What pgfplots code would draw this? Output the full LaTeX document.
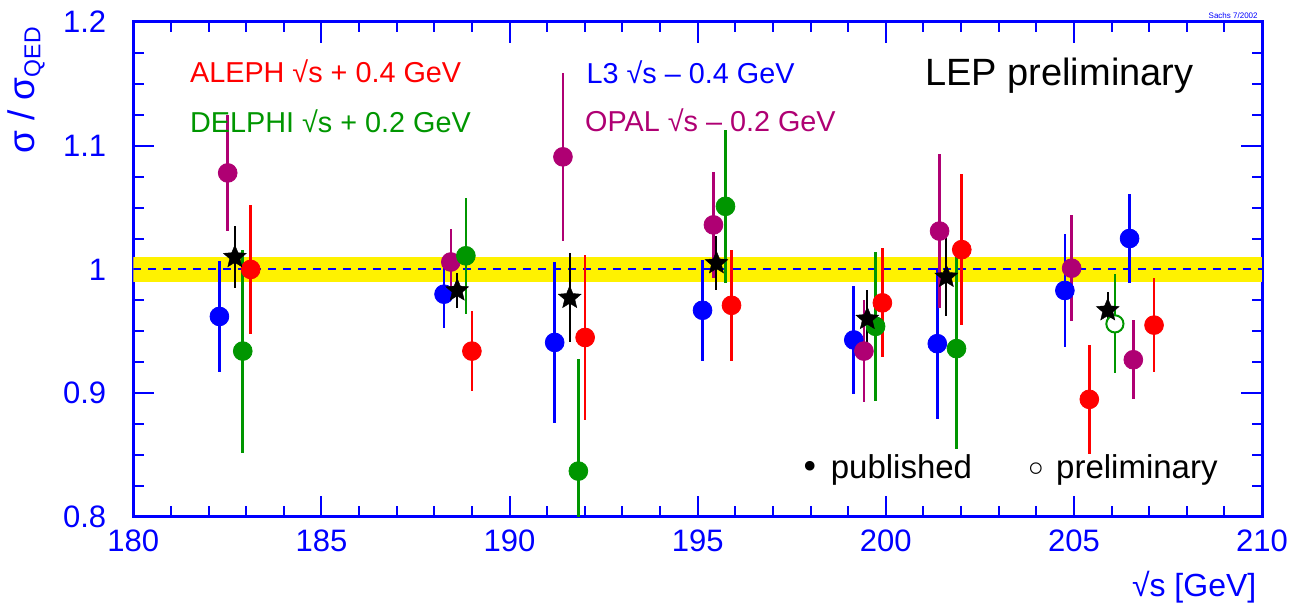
\documentclass[border=0pt]{standalone}
\usepackage{fontspec}
\setmainfont{Liberation Sans}
\newfontfamily\dejavu{DejaVu Sans}
\usepackage{pgfplots}
\usepackage{pgfplotstable}
\pgfplotsset{compat=1.18}

\definecolor{cAleph}{RGB}{255,0,0}
\definecolor{cDelphi}{RGB}{0,150,0}
\definecolor{cLthree}{RGB}{0,0,255}
\definecolor{cOpal}{RGB}{175,0,115}

\pgfdeclareplotmark{fstar}{%
  \pgfpathmoveto{\pgfpointpolar{90}{\pgfplotmarksize}}%
  \pgfpathlineto{\pgfpointpolar{126}{0.45\pgfplotmarksize}}%
  \pgfpathlineto{\pgfpointpolar{162}{\pgfplotmarksize}}%
  \pgfpathlineto{\pgfpointpolar{198}{0.45\pgfplotmarksize}}%
  \pgfpathlineto{\pgfpointpolar{234}{\pgfplotmarksize}}%
  \pgfpathlineto{\pgfpointpolar{270}{0.45\pgfplotmarksize}}%
  \pgfpathlineto{\pgfpointpolar{306}{\pgfplotmarksize}}%
  \pgfpathlineto{\pgfpointpolar{342}{0.45\pgfplotmarksize}}%
  \pgfpathlineto{\pgfpointpolar{18}{\pgfplotmarksize}}%
  \pgfpathlineto{\pgfpointpolar{54}{0.45\pgfplotmarksize}}%
  \pgfpathclose
  \pgfusepathqfillstroke
}

\pgfplotstableread{
x y e
182.29 0.962 0.045
188.26 0.980 0.027
191.20 0.941 0.065
195.13 0.967 0.041
199.15 0.943 0.044
201.37 0.940 0.061
204.76 0.983 0.046
206.48 1.025 0.036
}\lthree

\pgfplotstableread{
x y e
182.51 1.078 0.047
188.44 1.006 0.027
191.42 1.091 0.068
195.42 1.036 0.043
199.42 0.934 0.041
201.43 1.031 0.062
204.94 1.001 0.043
206.58 0.927 0.032
}\opal

\pgfplotstableread{
x y e
182.91 0.934 0.082
188.84 1.011 0.047
191.83 0.837 0.091
195.74 1.051 0.062
199.73 0.954 0.060
201.88 0.936 0.081
}\delphi

\pgfplotstableread{
x y e
206.09 0.956 0.040
}\delphiprel

\pgfplotstableread{
x y e
183.12 1.000 0.052
189.00 0.934 0.032
192.01 0.945 0.067
195.90 0.971 0.045
199.91 0.973 0.044
202.02 1.016 0.061
205.41 0.895 0.044
207.13 0.955 0.038
}\aleph

\pgfplotstableread{
x y e
182.70 1.010 0.025
188.61 0.983 0.014
191.60 0.977 0.036
195.50 1.005 0.022
199.51 0.960 0.023
201.61 0.994 0.032
205.90 0.967 0.015
}\lep

\begin{document}
\begin{tikzpicture}
\begin{axis}[name=ax,
  scale only axis, width=564.5pt, height=247.5pt,
  xmin=180, xmax=210, ymin=0.8, ymax=1.2,
  xtick={180,185,190,195,200,205,210}, minor x tick num=4,
  ytick={0.8,0.9,1,1.1,1.2}, minor y tick num=3,
  tick align=inside, major tick length=10.5pt, minor tick length=5.25pt,
  axis line style={blue, line width=1.5pt},
  tick style={blue, line width=1pt},
  tick label style={font=\fontsize{15.5}{18}\selectfont, text=blue},
  /pgf/number format/assume math mode=true,
  xticklabel style={yshift=-2.8pt},
  yticklabel style={xshift=-10pt},
  xlabel={√s [GeV]},
  xlabel style={at={(axis description cs:0.9953,-0.1616)}, anchor=base east, inner sep=0pt, font=\fontsize{16}{19}\selectfont, text=blue},
  ylabel={{\fontsize{18.5}{22}\selectfont σ / σ}{\fontsize{11.5}{14}\selectfont\raisebox{-3pt}{QED}}},
  ylabel style={at={(axis description cs:-0.0782,0.99)}, anchor=south east, inner sep=0pt, text=blue},
]
% yellow band and reference line
\addplot[draw=none, fill=yellow, forget plot] coordinates {(180,0.99) (210,0.99) (210,1.01) (180,1.01)} -- cycle;
\addplot[cLthree, dash pattern=on 4pt off 3.5pt, line width=1pt, forget plot] coordinates {(180,1) (210,1)};

% L3
\addplot[only marks, mark=*, mark size=4.7pt, color=cLthree, mark options={fill=cLthree, draw=cLthree},
  error bars/.cd, y dir=both, y explicit, error mark=none, error bar style={line width=1.3pt, cLthree}]
  table[x=x, y=y, y error=e] {\lthree};
% OPAL
\addplot[only marks, mark=*, mark size=4.7pt, color=cOpal, mark options={fill=cOpal, draw=cOpal},
  error bars/.cd, y dir=both, y explicit, error mark=none, error bar style={line width=1.3pt, cOpal}]
  table[x=x, y=y, y error=e] {\opal};
% DELPHI
\addplot[only marks, mark=*, mark size=4.7pt, color=cDelphi, mark options={fill=cDelphi, draw=cDelphi},
  error bars/.cd, y dir=both, y explicit, error mark=none, error bar style={line width=1.3pt, cDelphi}]
  table[x=x, y=y, y error=e] {\delphi};
% DELPHI preliminary: bar then open circle
\addplot[draw=none, mark=none,
  error bars/.cd, y dir=both, y explicit, error mark=none, error bar style={line width=1pt, cDelphi}]
  table[x=x, y=y, y error=e] {\delphiprel};
\addplot[only marks, mark=*, mark size=4.3pt, mark options={fill=white, draw=cDelphi, line width=1pt}]
  table[x=x, y=y] {\delphiprel};
% ALEPH
\addplot[only marks, mark=*, mark size=4.7pt, color=cAleph, mark options={fill=cAleph, draw=cAleph},
  error bars/.cd, y dir=both, y explicit, error mark=none, error bar style={line width=1.3pt, cAleph}]
  table[x=x, y=y, y error=e] {\aleph};
% LEP combined: bar then star
\addplot[draw=none, mark=none,
  error bars/.cd, y dir=both, y explicit, error mark=none, error bar style={line width=1pt, black}]
  table[x=x, y=y, y error=e] {\lep};
\addplot[only marks, mark=fstar, mark size=6pt, mark options={fill=black, draw=black, line width=0.2pt}]
  table[x=x, y=y] {\lep};

% annotations
\node[anchor=base west, inner sep=0pt, text=cAleph, font=\fontsize{14.4}{17}\selectfont] at (axis cs:181.5,1.151) {ALEPH √s + 0.4 GeV};
\node[anchor=base west, inner sep=0pt, text=cDelphi, font=\fontsize{14.4}{17}\selectfont] at (axis cs:181.5,1.1106) {DELPHI √s + 0.2 GeV};
\node[anchor=base west, inner sep=0pt, text=cLthree, font=\fontsize{14.4}{17}\selectfont] at (axis cs:192.04,1.1505) {L3 √s – 0.4 GeV};
\node[anchor=base west, inner sep=0pt, text=cOpal, font=\fontsize{14.4}{17}\selectfont] at (axis cs:192.0,1.1114) {OPAL √s – 0.2 GeV};
\node[anchor=base west, inner sep=0pt, text=black, font=\fontsize{19}{23}\selectfont] at (axis cs:201.04,1.1483) {LEP preliminary};
\node[anchor=base west, inner sep=0pt, text=black, font=\fontsize{16.5}{20}\selectfont] at (axis cs:197.72,0.8307) {{\dejavu •}\hspace{5.5pt}published};
\node[anchor=base west, inner sep=0pt, text=black, font=\fontsize{16.5}{20}\selectfont] at (axis cs:203.68,0.8307) {\raisebox{-2.5pt}{\dejavu\fontsize{20}{20}\selectfont ◦}\hspace{4pt}preliminary};
\end{axis}
\node[anchor=base east, inner sep=0pt, text=blue, font=\fontsize{4}{5}\selectfont] at ([xshift=-2pt, yshift=1.5pt]ax.north east) {Sachs 7/2002};
\pgfresetboundingbox
\path[use as bounding box] ([xshift=-66.65pt, yshift=-43pt]ax.south west) rectangle ([xshift=15.5pt, yshift=11pt]ax.north east);
\end{tikzpicture}
\end{document}
